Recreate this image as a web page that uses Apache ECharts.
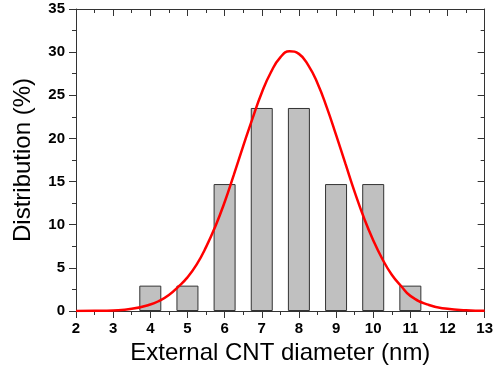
<!DOCTYPE html>
<html>
<head>
<meta charset="utf-8">
<script src="https://cdn.jsdelivr.net/npm/echarts@6/dist/echarts.min.js"></script>
<style>html,body{margin:0;padding:0;background:#fff}#c{width:496px;height:370px}</style>
</head>
<body>
<div id="c"></div>
<script>
var barCenters = [4, 5, 6, 7, 8, 9, 10, 11];
var barValues = [2.94, 2.94, 14.71, 23.53, 23.53, 14.71, 14.71, 2.94];
var fitX = [2, 2.5, 3, 3.5, 4, 4.25, 4.5, 4.75, 5, 5.25, 5.5, 5.75, 6, 6.25, 6.5, 6.75, 7, 7.25, 7.5, 7.75, 8, 8.25, 8.5, 8.75, 9, 9.25, 9.5, 9.75, 10, 10.25, 10.5, 10.75, 11, 11.5, 12, 12.5, 13];
var fitY = [0.0, 0.02, 0.07, 0.25, 0.75, 1.2, 1.85, 2.8, 3.9, 5.4, 7.4, 9.8, 12.6, 15.8, 19.1, 22.3, 25.3, 27.7, 29.4, 30.1, 29.8, 28.5, 26.4, 23.6, 20.4, 17.1, 13.8, 10.8, 8.2, 6.0, 4.2, 2.9, 1.75, 0.7, 0.25, 0.08, 0.02];
var xTicks = [2, 13, 1];
var yTicks = [0, 35, 5];

var chart = echarts.init(document.getElementById('c'));
var font = 'Liberation Sans, Arial, sans-serif';
var lc = '#333';
function axLine() { return {show: true, onZero: false, lineStyle: {color: lc, width: 1}}; }
function ticks(inside) { return {show: true, inside: inside, length: 7, lineStyle: {color: lc}}; }
function minor(inside) { return {show: true, splitNumber: 2, length: 4, lineStyle: {color: lc}}; }
var labelStyle = {color: '#000', fontFamily: font, fontWeight: 'bold', fontSize: 15};
chart.setOption({
  animation: false,
  grid: {left: 76, right: 10, top: 9, bottom: 59, containLabel: false},
  xAxis: [{
    type: 'value', min: xTicks[0], max: xTicks[1], interval: xTicks[2],
    axisLine: axLine(), axisTick: ticks(false), minorTick: minor(false),
    splitLine: {show: false}, minorSplitLine: {show: false},
    axisLabel: Object.assign({margin: 10}, labelStyle),
    name: 'External CNT diameter (nm)', nameLocation: 'middle', nameGap: 30,
    nameTextStyle: {color: '#000', fontFamily: font, fontSize: 24}
  }, {
    type: 'value', position: 'top', min: xTicks[0], max: xTicks[1], interval: xTicks[2],
    axisLine: axLine(), axisTick: ticks(true), minorTick: minor(true),
    splitLine: {show: false}, axisLabel: {show: false}
  }],
  yAxis: [{
    type: 'value', min: yTicks[0], max: yTicks[1], interval: yTicks[2],
    axisLine: axLine(), axisTick: ticks(false), minorTick: minor(false),
    splitLine: {show: false},
    axisLabel: Object.assign({margin: 11}, labelStyle),
    name: 'Distribution (%)', nameLocation: 'middle', nameGap: 41,
    nameTextStyle: {color: '#000', fontFamily: font, fontSize: 24}
  }, {
    type: 'value', position: 'right', min: yTicks[0], max: yTicks[1], interval: yTicks[2],
    axisLine: axLine(), axisTick: ticks(true), minorTick: minor(true),
    splitLine: {show: false}, axisLabel: {show: false}
  }],
  series: [{
    type: 'bar', xAxisIndex: 0, yAxisIndex: 0,
    barWidth: 22,
    data: barCenters.map(function (c, i) { return [c, barValues[i]]; }),
    itemStyle: {color: '#c0c0c0', borderColor: '#333', borderWidth: 1}
  }, {
    type: 'line', xAxisIndex: 0, yAxisIndex: 0,
    smooth: true, showSymbol: false, z: 5,
    data: fitX.map(function (x, i) { return [x, fitY[i]]; }),
    lineStyle: {color: '#ff0000', width: 2.5}
  }]
});
</script>
</body>
</html>
